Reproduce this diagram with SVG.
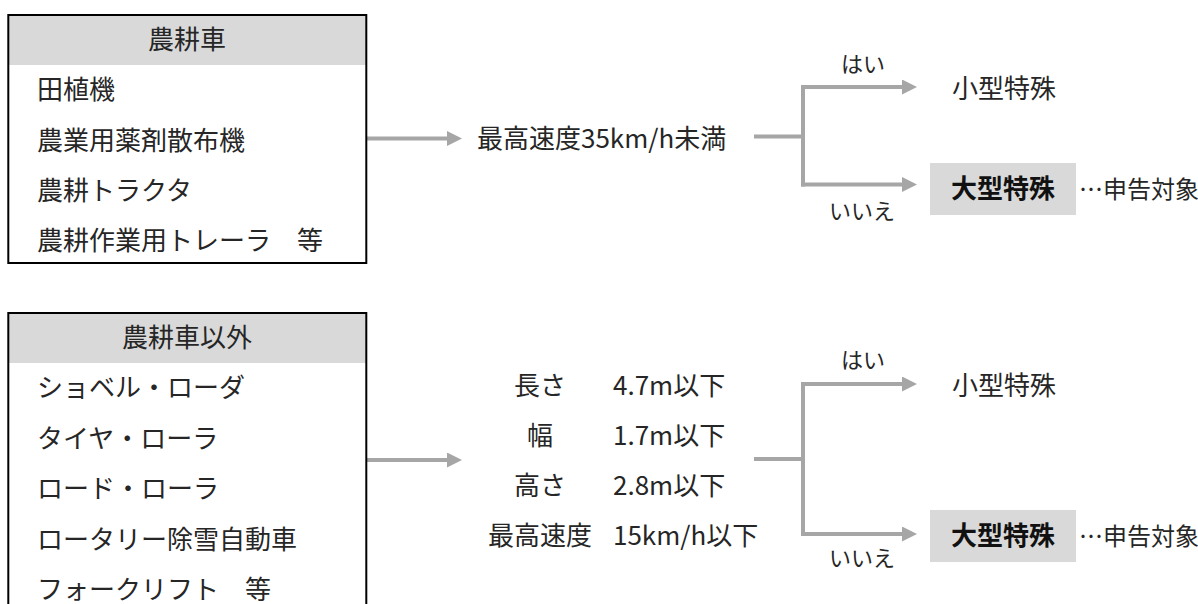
<svg xmlns="http://www.w3.org/2000/svg" width="1198" height="604" viewBox="0 0 1198 604">
<style>
  text { font-family: "Noto Sans CJK JP", "Noto Sans", sans-serif; fill: #262626; }
  .t { font-size: 26px; }
  .s { font-size: 22px; }
  .b { font-size: 26px; font-weight: bold; fill: #111; }
  .m { text-anchor: middle; }
  .hdr { fill: #D9D9D9; }
  .frame { fill: none; stroke: #000; stroke-width: 2; }
  .conn { fill: none; stroke: #A6A6A6; stroke-width: 4; }
  .arr { fill: none; stroke: #A6A6A6; stroke-width: 4; marker-end: url(#ah); }
</style>
<defs>
  <marker id="ah" markerUnits="userSpaceOnUse" markerWidth="15" markerHeight="15" refX="0" refY="7.5" orient="auto">
    <path d="M0,0 L15,7.5 L0,15 z" fill="#A6A6A6"/>
  </marker>
</defs>

<g id="connectors">
  <path class="arr" d="M367,138.5 H447"/>
  <path class="conn" d="M754,136.5 H803"/>
  <path class="conn" d="M803,85 V186.5"/>
  <path class="arr" d="M801,87 H902"/>
  <path class="arr" d="M801,184.5 H902"/>

  <path class="arr" d="M367,460 H447"/>
  <path class="conn" d="M754,459 H803"/>
  <path class="conn" d="M803,382 V536"/>
  <path class="arr" d="M801,384 H902"/>
  <path class="arr" d="M801,534 H902"/>
</g>

<g id="box-noukousha">
  <rect class="hdr" x="8" y="15" width="358" height="50"/>
  <rect class="frame" x="8.3" y="15" width="358" height="248"/>
  <text class="t m" x="187" y="48.5">農耕車</text>
  <text class="t" x="37" y="99">田植機</text>
  <text class="t" x="37" y="150">農業用薬剤散布機</text>
  <text class="t" x="37" y="200">農耕トラクタ</text>
  <text class="t" x="37" y="250">農耕作業用トレーラ　等</text>
</g>

<g id="box-other">
  <rect class="hdr" x="8" y="313" width="358" height="50"/>
  <rect class="frame" x="8.3" y="313" width="358" height="320"/>
  <text class="t m" x="187" y="346.5">農耕車以外</text>
  <text class="t" x="37" y="397">ショベル・ローダ</text>
  <text class="t" x="37" y="447.5">タイヤ・ローラ</text>
  <text class="t" x="37" y="498">ロード・ローラ</text>
  <text class="t" x="37" y="548.5">ロータリー除雪自動車</text>
  <text class="t" x="37" y="599">フォークリフト　等</text>
</g>

<g id="cond-top">
  <text class="t" x="477" y="148">最高速度35km/h未満</text>
</g>

<g id="cond-bottom">
  <text class="t m" x="540" y="395">長さ</text>
  <text class="t" x="613" y="395">4.7m以下</text>
  <text class="t m" x="540" y="445">幅</text>
  <text class="t" x="613" y="445">1.7m以下</text>
  <text class="t m" x="540" y="495">高さ</text>
  <text class="t" x="613" y="495">2.8m以下</text>
  <text class="t m" x="540" y="545">最高速度</text>
  <text class="t" x="613" y="545">15km/h以下</text>
</g>

<g id="labels-top">
  <text class="s" x="841" y="72">はい</text>
  <text class="s" x="829" y="219">いいえ</text>
</g>
<g id="labels-bottom">
  <text class="s" x="841" y="368">はい</text>
  <text class="s" x="829" y="566">いいえ</text>
</g>

<g id="small-top">
  <text class="t" x="952" y="98">小型特殊</text>
</g>
<g id="large-top">
  <rect class="hdr" x="930" y="163" width="146" height="52"/>
  <text class="b m" x="1003" y="198">大型特殊</text>
  <text class="t" x="1079" y="198" style="font-size:24px">…申告対象</text>
</g>

<g id="small-bottom">
  <text class="t" x="952" y="395">小型特殊</text>
</g>
<g id="large-bottom">
  <rect class="hdr" x="930" y="510" width="146" height="52"/>
  <text class="b m" x="1003" y="545">大型特殊</text>
  <text class="t" x="1079" y="545" style="font-size:24px">…申告対象</text>
</g>
</svg>
